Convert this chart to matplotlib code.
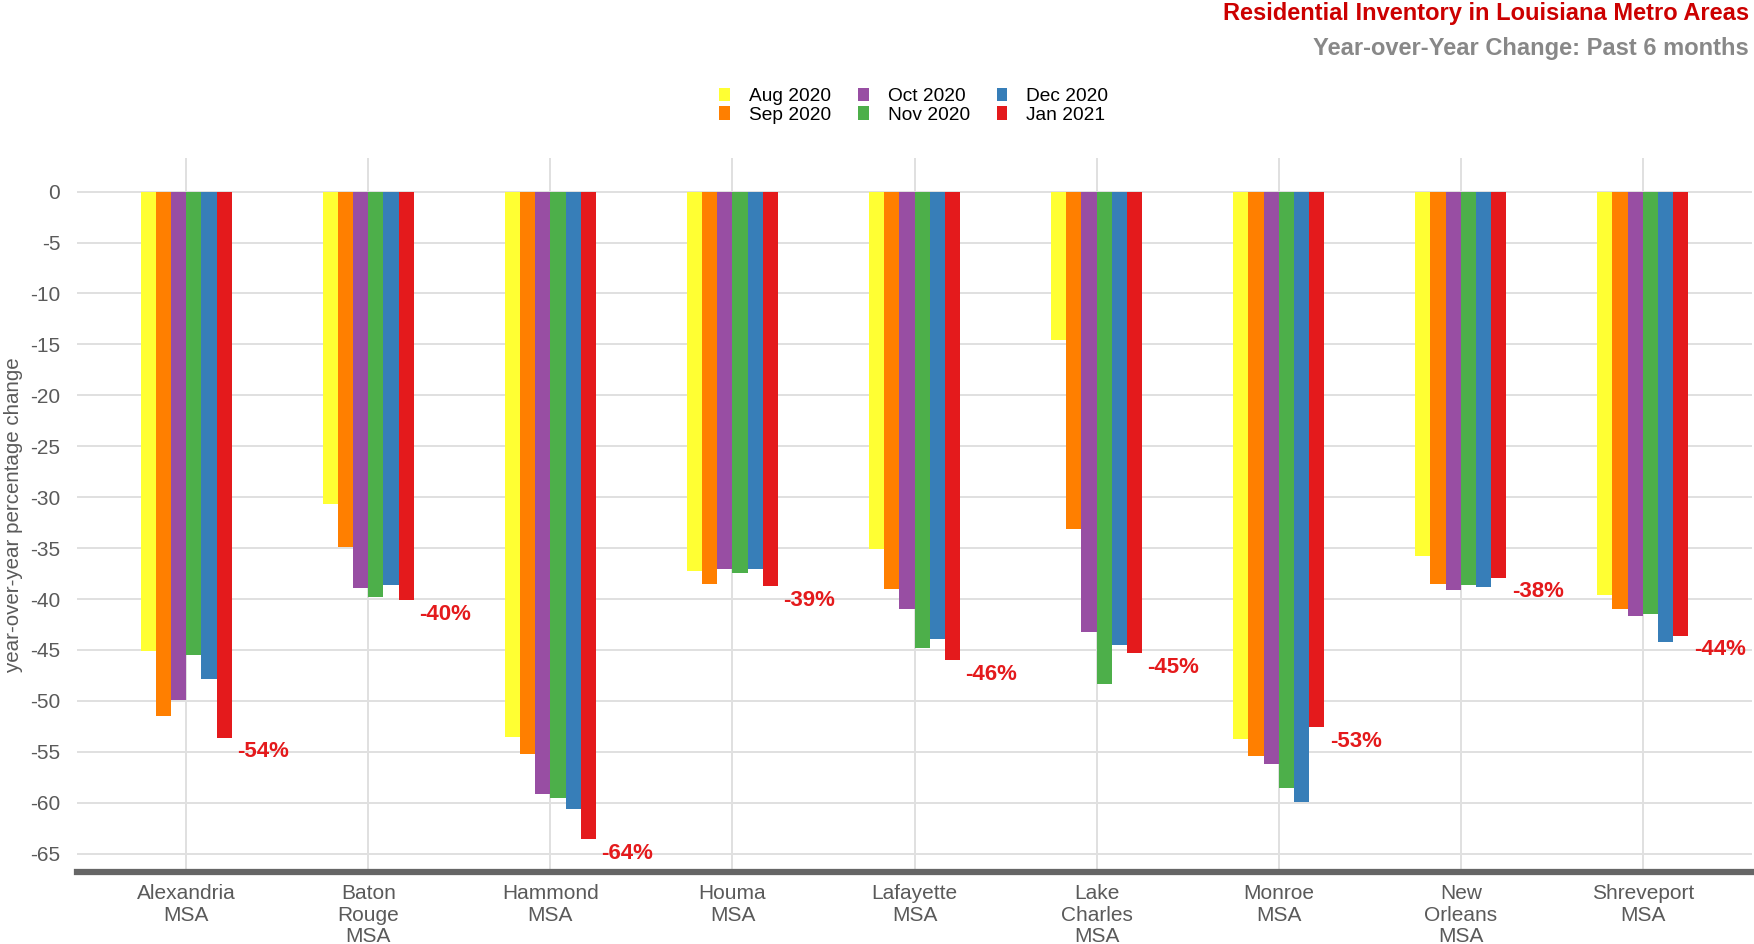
import numpy as np
import matplotlib
matplotlib.use("Agg")
import matplotlib.pyplot as plt
from matplotlib.patches import Patch

plt.rcParams['font.family'] = ['Liberation Sans', 'DejaVu Sans']
plt.rcParams['axes.unicode_minus'] = False

# metro areas and monthly year-over-year inventory change (%)
areas = ["Alexandria\nMSA", "Baton\nRouge\nMSA", "Hammond\nMSA", "Houma\nMSA",
         "Lafayette\nMSA", "Lake\nCharles\nMSA", "Monroe\nMSA", "New\nOrleans\nMSA",
         "Shreveport\nMSA"]
months = ["Aug 2020", "Sep 2020", "Oct 2020", "Nov 2020", "Dec 2020", "Jan 2021"]

aug20 = [-45.1, -30.7, -53.5, -37.2, -35.1, -14.6, -53.7, -35.8, -39.6]
sep20 = [-51.5, -34.9, -55.2, -38.5, -39.0, -33.1, -55.4, -38.5, -41.0]
oct20 = [-49.9, -38.9, -59.1, -37.1, -41.0, -43.2, -56.2, -39.1, -41.7]
nov20 = [-45.5, -39.8, -59.5, -37.4, -44.8, -48.3, -58.6, -38.6, -41.5]
dec20 = [-47.9, -38.6, -60.6, -37.1, -43.9, -44.5, -59.9, -38.8, -44.2]
jan21 = [-53.6, -40.1, -63.6, -38.7, -46.0, -45.3, -52.6, -37.9, -43.6]

series = [aug20, sep20, oct20, nov20, dec20, jan21]
colors = ["#FFFF33", "#FF7F00", "#984EA3", "#4DAF4A", "#377EB8", "#E41A1C"]

fig = plt.figure(figsize=(17.54, 9.44), dpi=100)
ax = fig.add_axes([0.0439, 0.0763, 0.955, 0.7563])

x = np.arange(len(areas))
w = 0.5 / len(series)
for j, (vals, c) in enumerate(zip(series, colors)):
    ax.bar(x + (j - 2.5) * w, vals, width=w, color=c, linewidth=0, zorder=2)

# percent labels for the latest month
for i, v in enumerate(jan21):
    ax.text(i + 0.25 + 0.03, v - 1.4, "%d%%" % round(v), color="#E41A1C",
            fontsize=16, fontweight="bold", ha="left", va="center", zorder=3)

ax.set_xlim(-0.6, 8.6)
ax.set_ylim(-66.8, 3.3)
ax.set_yticks(np.arange(0, -70, -5))
ax.set_yticklabels([str(t) for t in range(0, -70, -5)])
ax.set_xticks(x)
ax.set_xticklabels(areas, linespacing=1.15)
ax.tick_params(axis="both", length=0, labelsize=15, labelcolor="#5a5a5a")
ax.tick_params(axis="x", pad=9)
ax.tick_params(axis="y", pad=12)

ax.grid(True, color="#e0e0e0", linewidth=1.4, zorder=0)
ax.set_axisbelow(True)
for s in ["top", "right", "left"]:
    ax.spines[s].set_visible(False)
ax.spines["bottom"].set_color("#666666")
ax.spines["bottom"].set_linewidth(4.5)

ax.set_ylabel("year-over-year percentage change", fontsize=14.8, color="#5a5a5a", labelpad=5)

handles = [Patch(facecolor=c, edgecolor="none") for c in colors]
fig.legend(handles, months, ncol=3, loc="center", bbox_to_anchor=(0.521, 0.888),
           frameon=False, fontsize=13.8, handlelength=0.55, handleheight=0.7,
           handletextpad=1.0, columnspacing=1.4, labelspacing=0.05)

fig.text(0.997, 0.986, "Residential Inventory in Louisiana Metro Areas", ha="right",
         va="center", fontsize=17, fontweight="bold", color="#CC0000")
fig.text(0.997, 0.949, "Year-over-Year Change: Past 6 months", ha="right",
         va="center", fontsize=17, fontweight="bold", color="#888888")

fig.savefig("out.png", dpi=100)
